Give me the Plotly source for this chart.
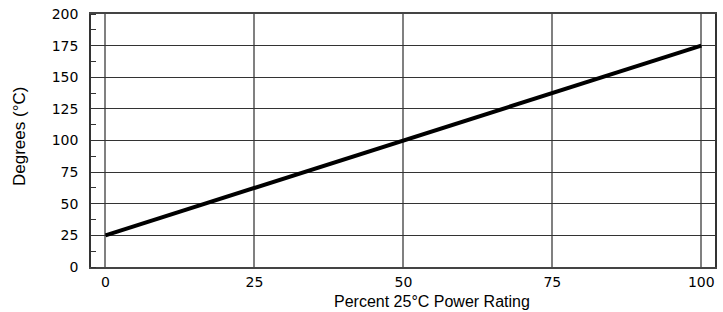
import plotly.graph_objects as go

power_pct = [0, 100]
degrees_c = [25, 175]
x_ticks = [0, 25, 50, 75, 100]
y_ticks = [0, 25, 50, 75, 100, 125, 150, 175, 200]

fig = go.Figure()
fig.add_trace(go.Scatter(x=power_pct, y=degrees_c, mode="lines",
                         line=dict(color="black", width=4), showlegend=False))

FAM = "DejaVu Sans, Verdana, sans-serif"
TFAM = "Liberation Sans, Arial, Helvetica, sans-serif"
fig.update_layout(
    width=723, height=312,
    margin=dict(l=91, r=8, t=14, b=45),
    paper_bgcolor="white", plot_bgcolor="white",
    font=dict(family=FAM, size=14, color="black"),
)
fig.update_xaxes(
    range=[-2.43, 102.3], tickvals=x_ticks, ticks="", showgrid=True,
    gridcolor="#808080", gridwidth=1.5, showline=True, linecolor="#444444",
    linewidth=1.5, mirror=True, zeroline=False, automargin=False,
    tickfont=dict(family=FAM, size=14), ticklabelstandoff=1,
)
fig.update_yaxes(
    range=[0, 200], tickvals=y_ticks, ticks="", showgrid=True,
    gridcolor="#333333", gridwidth=1.2, showline=True, linecolor="#333333",
    linewidth=1.5, mirror=True, zeroline=False, automargin=False,
    tickfont=dict(family=FAM, size=14), ticklabelstandoff=8,
    minor=dict(ticks="inside", ticklen=5, tickcolor="#333333", dtick=12.5, showgrid=False),
)
fig.add_annotation(text="Percent 25°C Power Rating", xref="paper", yref="paper",
                   x=0.547, y=-0.138, xanchor="center", yanchor="middle",
                   showarrow=False, font=dict(family=TFAM, size=16, color="black"))
fig.add_annotation(text="Degrees (°C)", xref="paper", yref="paper",
                   x=-0.1145, y=0.516, xanchor="center", yanchor="middle", textangle=-90,
                   showarrow=False, font=dict(family=TFAM, size=17, color="black"))
fig.write_html("out.html", config={"displayModeBar": False},
               post_script="document.body.style.margin='0';document.body.style.overflow='hidden';")
